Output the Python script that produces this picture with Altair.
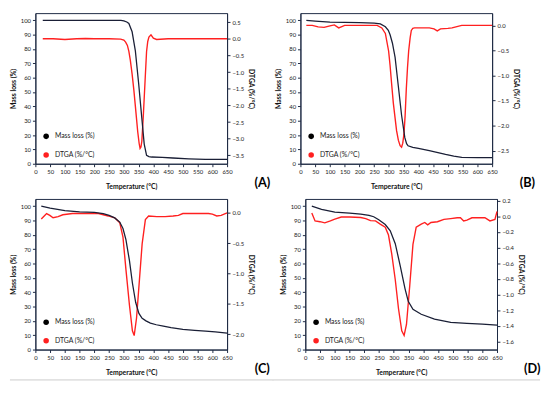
import altair as alt
import pandas as pd

# ---------------- data ----------------
X_TICKS = list(range(0, 651, 50))
LEFT_TICKS = list(range(0, 101, 10))
LEGEND = ["Mass loss (%)", "DTGA (%/°C)"]
PANEL_LABELS = ["(A)", "(B)", "(C)", "(D)"]

# Panel A
a_mass_t = [25, 100, 200, 290, 300, 310, 317, 328, 339, 350, 361, 369, 377, 385, 394, 430, 466, 520, 576, 650]
a_mass_v = [100, 100, 100, 99.9, 99.6, 98.8, 97.8, 92, 78.7, 56.3, 31.6, 13.7, 5.8, 5.0, 4.7, 4.4, 4.0, 3.4, 3.0, 3.0]
a_dtga_t = [25, 60, 100, 140, 170, 200, 250, 289, 300, 306, 312, 317, 322, 328, 334, 339, 347, 352, 355, 358,
            361, 366, 372, 377, 381, 385, 392, 400, 411, 450, 500, 550, 600, 650]
a_dtga_v = [0.0, 0.0, -0.02, 0.0, 0.01, 0.0, 0.0, -0.01, -0.04, -0.1, -0.2, -0.38, -0.65, -1.06, -1.55, -2.02,
            -2.79, -3.15, -3.29, -3.25, -3.07, -2.31, -1.25, -0.38, -0.08, 0.05, 0.12, 0.02, -0.02, 0.0, 0.0,
            0.0, 0.0, 0.0]
a_right_dom = [-3.75, 0.77]
a_right_ticks = [0.5, 0.0, -0.5, -1.0, -1.5, -2.0, -2.5, -3.0, -3.5]

# Panel B
b_mass_t = [20, 50, 100, 150, 200, 250, 271, 288, 298, 304, 312, 321, 332, 343, 354, 360, 365, 381, 400, 437,
            470, 492, 520, 547, 600, 650]
b_mass_v = [100, 99.5, 98.8, 98.5, 98.4, 98.0, 97.5, 95.5, 93, 89.9, 84, 74.2, 54, 33.8, 18.2, 14, 12.5, 11.4,
            10.8, 9.2, 7.6, 6.5, 5.3, 4.4, 4.3, 4.3]
b_dtga_t = [20, 40, 60, 80, 100, 115, 130, 150, 200, 240, 260, 276, 288, 299, 304, 309, 315, 321, 326, 332, 338,
            343, 347, 351, 355, 359, 363, 367, 372, 376, 381, 387, 400, 437, 453, 464, 475, 500, 514, 547, 600, 650]
b_dtga_v = [0.0, 0.0, -0.03, -0.04, -0.01, 0.01, -0.05, 0.0, 0.0, 0.0, 0.0, -0.05, -0.16, -0.51, -0.8, -1.15,
            -1.55, -1.85, -2.1, -2.29, -2.4, -2.43, -2.35, -2.17, -1.8, -1.27, -0.85, -0.51, -0.25, -0.1, -0.06,
            -0.05, -0.05, -0.05, -0.07, -0.11, -0.07, -0.06, -0.05, 0.0, 0.0, 0.0]
b_right_dom = [-2.76, 0.245]
b_right_ticks = [0.0, -0.5, -1.0, -1.5, -2.0, -2.5]

# Panel C
c_mass_t = [20, 50, 100, 150, 200, 230, 250, 269, 286, 297, 307, 319, 329, 340, 351, 362, 375, 390, 410, 434,
            460, 500, 540, 577, 610, 650]
c_mass_v = [100, 98.6, 96.8, 96.0, 95.6, 94.8, 93.5, 91.8, 88.9, 84.4, 76.6, 62, 46.4, 33, 25.2, 21.8, 20, 18.5,
            17.3, 16.3, 15.3, 14.1, 13.4, 12.9, 12.3, 11.4]
c_dtga_t = [20, 30, 38, 49, 60, 77, 93, 126, 170, 214, 247, 269, 286, 297, 307, 319, 329, 335, 343, 353, 362,
            373, 384, 412, 440, 467, 485, 500, 540, 587, 600, 615, 630, 650]
c_dtga_v = [-0.1, -0.05, -0.01, -0.04, -0.08, -0.06, -0.03, -0.01, -0.01, -0.01, -0.05, -0.08, -0.16, -0.4,
            -0.93, -1.52, -1.94, -2.02, -1.73, -1.09, -0.51, -0.11, -0.05, -0.06, -0.06, -0.05, -0.04, -0.01,
            -0.01, -0.01, -0.02, -0.05, -0.04, 0.0]
c_right_dom = [-2.25, 0.23]
c_right_ticks = [0.0, -0.5, -1.0, -1.5, -2.0]

# Panel D
d_mass_t = [22, 55, 100, 150, 188, 216, 232, 249, 271, 288, 305, 322, 338, 349, 365, 393, 438, 493, 548, 600, 650]
d_mass_v = [100, 97.8, 95.8, 95.2, 94.5, 93.5, 92.6, 90.5, 87.2, 82.8, 73.8, 58.2, 42.5, 33.6, 28, 24.6, 21.3,
            19, 18.3, 17.8, 17.0]
d_dtga_t = [22, 33, 50, 66, 85, 100, 122, 150, 188, 205, 221, 238, 254, 271, 282, 293, 305, 316, 327, 335, 343,
            354, 365, 376, 393, 405, 415, 426, 448, 470, 493, 515, 526, 537, 548, 565, 587, 609, 626, 643, 650]
d_dtga_v = [0.04, -0.06, -0.07, -0.085, -0.06, -0.037, -0.01, -0.01, -0.016, -0.03, -0.057, -0.06, -0.1, -0.14,
            -0.24, -0.48, -0.81, -1.18, -1.46, -1.52, -1.38, -0.89, -0.36, -0.14, -0.1, -0.08, -0.11, -0.08,
            -0.07, -0.04, -0.03, -0.02, -0.02, -0.06, -0.05, -0.02, -0.02, -0.02, -0.06, -0.04, 0.06]
d_right_dom = [-1.70, 0.22]
d_right_ticks = [0.2, 0.0, -0.2, -0.4, -0.6, -0.8, -1.0, -1.2, -1.4, -1.6]

# ---------------- style ----------------
NAVY = "#1a1f36"
RED = "#ff2020"
AXC = "#1e2a44"
FONT = "Lato"
W, H = 196, 154


def panel(mt, mv, dt, dv, rdom, rticks, label, footer=None):
    dm = pd.DataFrame({"T": mt, "mass": mv})
    dd = pd.DataFrame({"T": dt, "dtga": dv})
    xenc = alt.X("T:Q", scale=alt.Scale(domain=[0, 650], nice=False, zero=False),
                 axis=alt.Axis(values=X_TICKS, title="Temperature (°C)", labelOverlap=False,
                               labelFlush=False, format="d", grid=False, titlePadding=8))
    red = alt.Chart(dd).mark_line(color=RED, strokeWidth=1.4).encode(
        x=xenc,
        y=alt.Y("dtga:Q", scale=alt.Scale(domain=rdom, nice=False, zero=False),
                axis=alt.Axis(orient="right", values=rticks, format=".1f", title="DTGA (%/°C)",
                              grid=False, labelOverlap=False, labelFlush=False, titlePadding=4)))
    black = alt.Chart(dm).mark_line(color=NAVY, strokeWidth=1.3).encode(
        x=xenc,
        y=alt.Y("mass:Q", scale=alt.Scale(domain=[0, 105], nice=False, zero=False),
                axis=alt.Axis(orient="left", values=LEFT_TICKS, title="Mass loss (%)", grid=False,
                              labelOverlap=False, labelFlush=False, titlePadding=4)))
    ld = pd.DataFrame({"t": LEGEND})
    dot1 = alt.Chart(ld.iloc[[0]]).mark_circle(color="black", size=32, opacity=1).encode(
        x=alt.value(11), y=alt.value(H - 28))
    dot2 = alt.Chart(ld.iloc[[1]]).mark_circle(color=RED, size=32, opacity=1).encode(
        x=alt.value(11), y=alt.value(H - 9))
    txt1 = alt.Chart(ld.iloc[[0]]).mark_text(align="left", baseline="middle", fontSize=7, font=FONT,
                                             color="#222").encode(
        x=alt.value(20), y=alt.value(H - 28), text="t:N")
    txt2 = alt.Chart(ld.iloc[[1]]).mark_text(align="left", baseline="middle", fontSize=7, font=FONT,
                                             color="#222").encode(
        x=alt.value(20), y=alt.value(H - 9), text="t:N")
    lab = alt.Chart(pd.DataFrame({"l": [label]})).mark_text(
        fontSize=13, fontWeight="bold", font=FONT, color="black", baseline="middle", align="center").encode(
        x=alt.value(W + 36), y=alt.value(H + 20), text="l:N")
    layers = [red, black, dot1, dot2, txt1, txt2, lab]
    if footer is not None:
        rule = alt.Chart(pd.DataFrame({"l": [label]})).mark_rule(color="#e2e2e2", strokeWidth=2).encode(
            x=alt.value(footer[0]), x2=alt.value(W + footer[1]), y=alt.value(H + 31))
        layers.append(rule)
    return alt.layer(*layers).resolve_scale(y="independent").properties(width=W, height=H)


pA = panel(a_mass_t, a_mass_v, a_dtga_t, a_dtga_v, a_right_dom, a_right_ticks, PANEL_LABELS[0])
pB = panel(b_mass_t, b_mass_v, b_dtga_t, b_dtga_v, b_right_dom, b_right_ticks, PANEL_LABELS[1])
pC = panel(c_mass_t, c_mass_v, c_dtga_t, c_dtga_v, c_right_dom, c_right_ticks, PANEL_LABELS[2], footer=(-26, 48))
pD = panel(d_mass_t, d_mass_v, d_dtga_t, d_dtga_v, d_right_dom, d_right_ticks, PANEL_LABELS[3], footer=(-34, 44))

top = alt.hconcat(pA, pB, spacing=3)
bot = alt.hconcat(pC, pD, spacing=-6)
chart = alt.vconcat(top, bot, spacing=6).properties(padding=0, background="white").configure_view(
    stroke=AXC, strokeWidth=1
).configure_axis(
    labelFontSize=6, titleFontSize=7, titleFontWeight="bold", labelFont=FONT, titleFont=FONT,
    labelColor="#222", titleColor="#111", domainColor=AXC, tickColor=AXC, tickSize=3, labelPadding=2
)

chart.save("out.html", embed_options={"renderer": "svg", "actions": False})
